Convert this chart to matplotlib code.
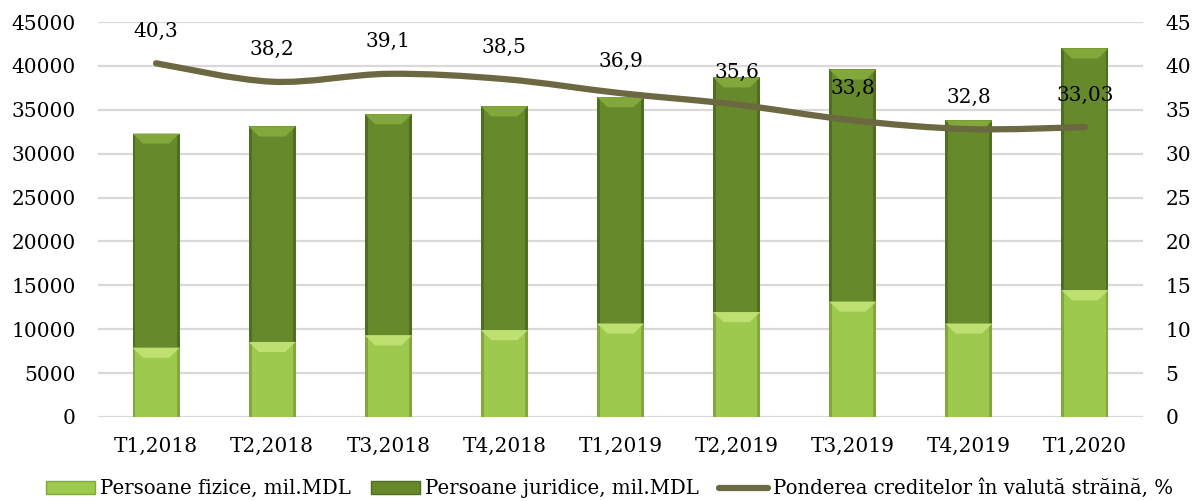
import numpy as np
import matplotlib
matplotlib.use("Agg")
import matplotlib.pyplot as plt
from matplotlib.path import Path
from matplotlib.patches import PathPatch, Patch
from matplotlib.lines import Line2D

# Data
quarters = ["T1,2018", "T2,2018", "T3,2018", "T4,2018", "T1,2019",
            "T2,2019", "T3,2019", "T4,2019", "T1,2020"]
fizice = [7900, 8550, 9300, 9900, 10650, 11950, 13150, 10650, 14450]
totals = [32300, 33100, 34500, 35400, 36450, 38700, 39600, 33800, 42000]
juridice = [t - f for t, f in zip(totals, fizice)]
pondere = [40.3, 38.2, 39.1, 38.5, 36.9, 35.6, 33.8, 32.8, 33.03]
pondere_labels = ["40,3", "38,2", "39,1", "38,5", "36,9", "35,6", "33,8", "32,8", "33,03"]

plt.rcParams["font.family"] = ["DejaVu Serif"]
FS = 14.5

light = "#9dc94f"
light_side = "#82a83d"
light_top = "#bde071"
dark = "#66892c"
dark_side = "#506e21"
dark_top = "#82a83b"
line_col = "#6b6842"

fig = plt.figure(figsize=(11.95, 5.01), dpi=100)
ax = fig.add_axes([0.082, 0.1677, 0.8745, 0.7883])
ax2 = ax.twinx()

x = np.arange(len(quarters))
w = 0.405
side = 0.025

# outer (side shade) and inner face of each segment
ax.bar(x, fizice, w, color=light_side, zorder=3)
ax.bar(x, fizice, w - 2 * side, color=light, zorder=3)
ax.bar(x, juridice, w, bottom=fizice, color=dark_side, zorder=3)
ax.bar(x, juridice, w - 2 * side, bottom=fizice, color=dark, zorder=3)

# bevel highlight on top of each segment
bev = 1150
inset = 0.09
for xi, f, t in zip(x, fizice, totals):
    for top, col in ((f, light_top), (t, dark_top)):
        verts = [(xi - w / 2, top), (xi + w / 2, top),
                 (xi + w / 2 - inset, top - bev), (xi - w / 2 + inset, top - bev)]
        ax.add_patch(plt.Polygon(verts, closed=True, color=col, zorder=4, lw=0))

ax.set_xlim(-0.5, len(quarters) - 0.5)
ax.set_ylim(0, 45000)
ax.set_yticks(np.arange(0, 45001, 5000))
ax.yaxis.grid(True, color="#d9d9d9", linewidth=1.6, zorder=0)
ax.set_axisbelow(True)
ax.set_xticks(x)
ax.set_xticklabels(quarters)
ax.tick_params(axis="both", length=0, labelsize=FS)
ax.tick_params(axis="y", pad=16)
ax.tick_params(axis="x", pad=14)
for s in ax.spines.values():
    s.set_visible(False)
ax.axhline(0, color="#d9d9d9", linewidth=2, zorder=1)

ax2.set_ylim(0, 45)
ax2.set_yticks(np.arange(0, 46, 5))
ax2.tick_params(axis="y", length=0, labelsize=FS, pad=16)
for s in ax2.spines.values():
    s.set_visible(False)

# smoothed line (Bezier through the data points, like a spreadsheet smooth line)
pts = np.column_stack([x, pondere]).astype(float)
verts = [tuple(pts[0])]
codes = [Path.MOVETO]
n = len(pts)
for i in range(n - 1):
    p0 = pts[i - 1] if i > 0 else pts[i]
    p1 = pts[i]
    p2 = pts[i + 1]
    p3 = pts[i + 2] if i + 2 < n else pts[i + 1]
    c1 = p1 + (p2 - p0) / 6
    c2 = p2 - (p3 - p1) / 6
    verts += [tuple(c1), tuple(c2), tuple(p2)]
    codes += [Path.CURVE4] * 3
ax2.add_patch(PathPatch(Path(verts, codes), facecolor="none", edgecolor=line_col,
                        lw=4.5, capstyle="round", zorder=5))

for xi, v, lab in zip(x, pondere, pondere_labels):
    ax2.annotate(lab, (xi, v), xytext=(0, 23), textcoords="offset points",
                 ha="center", va="center", fontsize=FS, zorder=6)

handles = [Patch(facecolor=light, edgecolor=light_side),
           Patch(facecolor=dark, edgecolor=dark_side),
           Line2D([], [], color=line_col, lw=4.5, solid_capstyle="round")]
labels = ["Persoane fizice, mil.MDL", "Persoane juridice, mil.MDL",
          "Ponderea creditelor în valută străină, %"]
fig.legend(handles, labels, loc="lower center", bbox_to_anchor=(0.51, -0.03), ncol=3,
           frameon=False, fontsize=FS - 0.3, handlelength=2.5, handleheight=0.6,
           handletextpad=0.25, columnspacing=1.0)

fig.savefig("out.png", dpi=100)
